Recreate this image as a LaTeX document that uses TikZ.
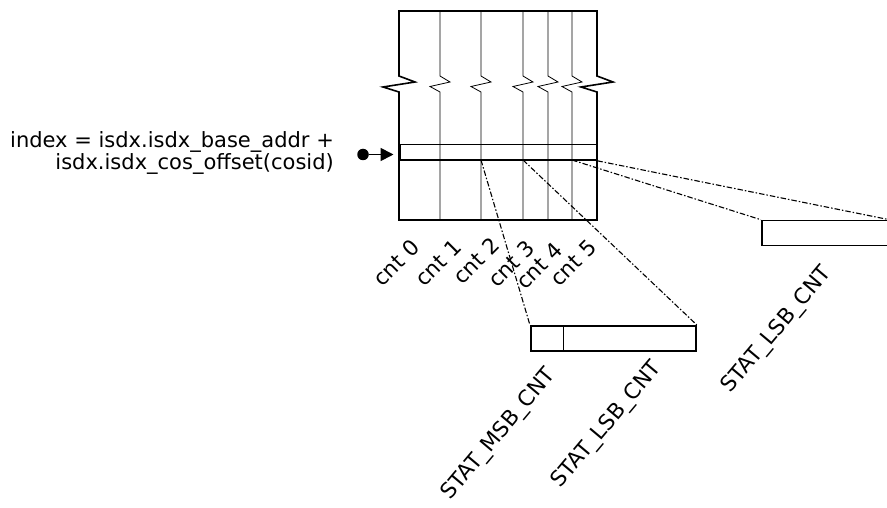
\documentclass[tikz,border=0pt]{standalone}
\usepackage{fontspec}
\setmainfont{DejaVu Sans}
\usetikzlibrary{arrows.meta}
\begin{document}
\begin{tikzpicture}[x=1pt,y=-1pt,
  lbl/.style={font=\fontsize{21.5}{21.5}\selectfont, inner sep=0pt},
  idxlbl/.style={font=\fontsize{21}{21.5}\selectfont, inner sep=0pt, align=right},
  outline/.style={line width=1.6pt, line join=miter},
  divline/.style={line width=0.8pt},
  boxnode/.style={draw, line width=1.6pt, inner sep=0pt, minimum height=25pt},
  dd/.style={line width=1.1pt, dash pattern=on 5.5pt off 2pt on 1.5pt off 2pt}]
\useasboundingbox (0,0) rectangle (887,508);

% main memory block with break marks
\draw[outline] (399,11) -- (597,11) -- (597,76) -- (613,82) -- (581,87) -- (597,92)
  -- (597,220) -- (399,220) -- (399,92) -- (383,87) -- (415,82) -- (399,76) -- cycle;
\foreach \x in {440,481,523,548,572}{
  \draw[divline] (\x,11) -- (\x,76) -- ({\x+10},82) -- ({\x-10},86.5) -- (\x,92) -- (\x,220);
}

% selected row
\node[draw, line width=1.6pt, inner sep=0pt, minimum width=196pt, minimum height=15.5pt]
  (row) at (498.5,152.25) {};

% index pointer
\node[idxlbl, anchor=north east] (idx) at (334,131.5)
  {index = isdx.isdx\_base\_addr +\\isdx.isdx\_cos\_offset(cosid)};
\node[circle, fill, inner sep=0pt, minimum size=11.5pt] (dot) at (363,154.5) {};
\coordinate (tip) at (393.5,154.5);
\draw[line width=1.8pt, -{Triangle[length=13pt,width=13pt]}] (dot) -- (tip);

% counter labels
\node[lbl, rotate=45, anchor=base east] (l0) at (421,249) {cnt 0};
\node[lbl, rotate=45, anchor=base east] (l1) at (463,249) {cnt 1};
\node[lbl, rotate=45, anchor=base east] (l2) at (501,247) {cnt 2};
\node[lbl, rotate=45, anchor=base east] (l3) at (536,250) {cnt 3};
\node[lbl, rotate=45, anchor=base east] (l4) at (564,252) {cnt 4};
\node[lbl, rotate=45, anchor=base east] (l5) at (598,249) {cnt 5};

% expanded counters
\node[boxnode, minimum width=32.6pt] (msb) at (547,338.2) {};
\node[boxnode, minimum width=132.7pt] (lsb) at (629.65,338.2) {};
\node[boxnode, minimum width=126.8pt] (lsbr) at (825.1,233) {};

\node[lbl, rotate=50, anchor=base east] (tmsb) at (556,375) {STAT\_MSB\_CNT};
\node[lbl, rotate=50, anchor=base east] (tlsb) at (662,368) {STAT\_LSB\_CNT};
\node[lbl, rotate=50, anchor=base east] (tlsbr) at (832,273) {STAT\_LSB\_CNT};

% projection lines
\coordinate (c2) at (481,160);
\coordinate (c3) at (523,160);
\coordinate (c5) at (572,160);
\draw[dd] (c2) -- (msb.north west);
\draw[dd] (c3) -- (lsb.north east);
\draw[dd] (c5) -- (lsbr.north west);
\draw[dd] (row.south east) -- (lsbr.north east);
\end{tikzpicture}
\end{document}
